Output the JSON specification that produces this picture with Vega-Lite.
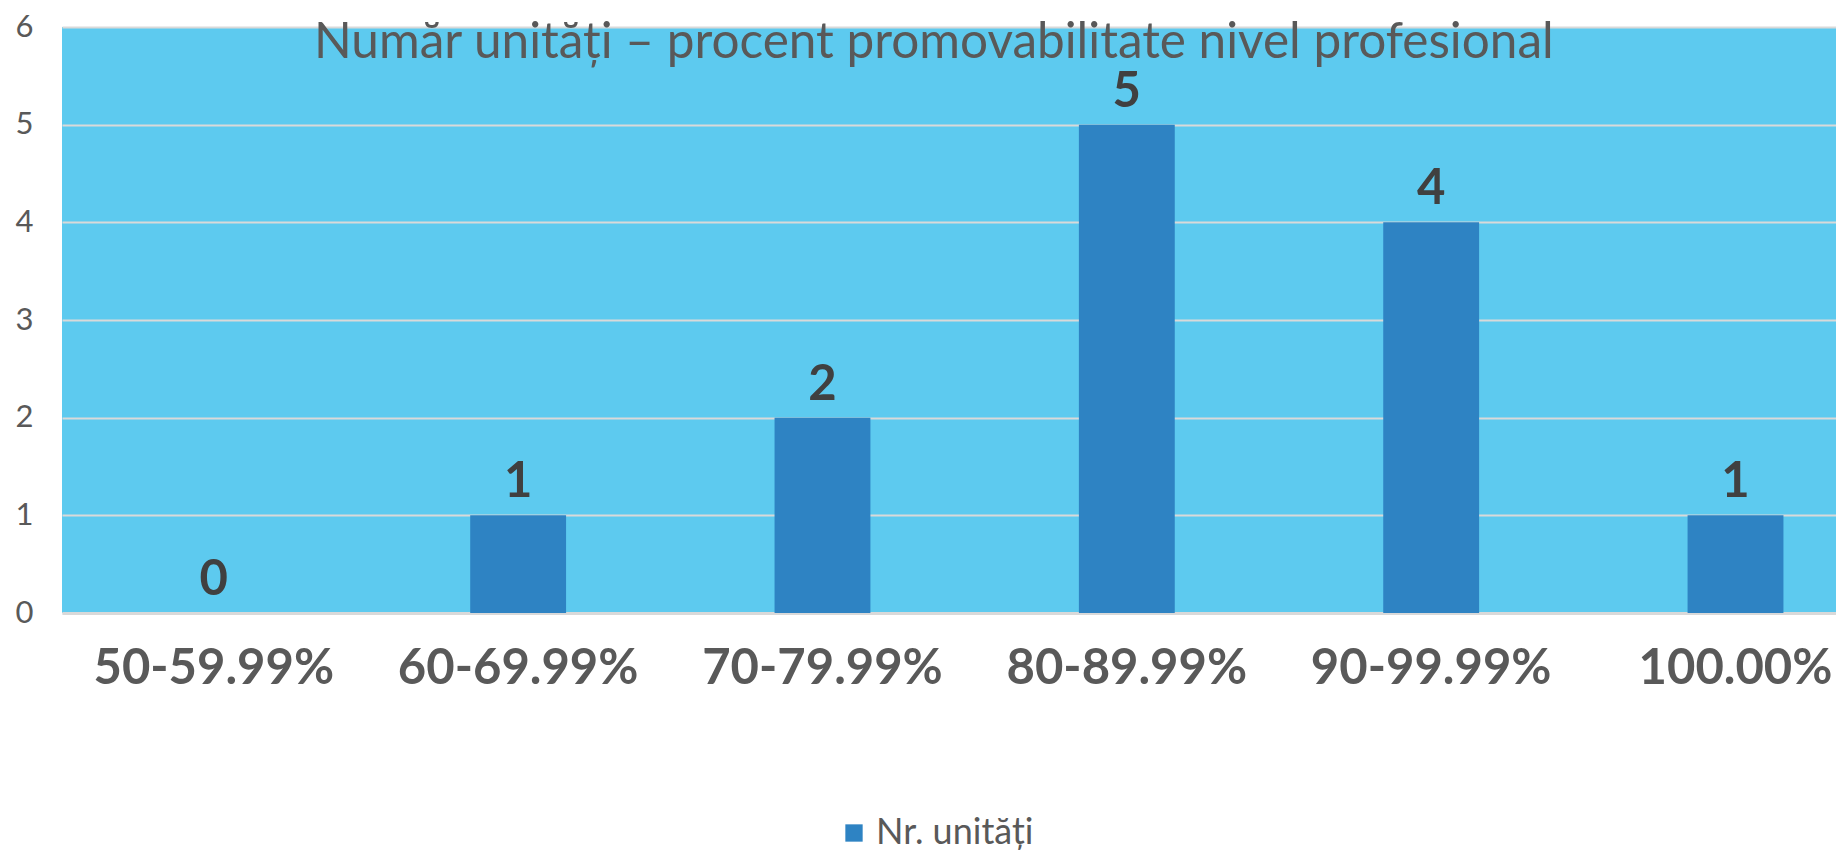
{
  "$schema": "https://vega.github.io/schema/vega-lite/v6.json",
  "autosize": {"type": "none"},
  "padding": {"left": 62, "top": 27, "right": 0, "bottom": 243},
  "width": 1774,
  "height": 586,
  "background": "#FFFFFF",
  "config": {
    "view": {"fill": "#5DCAEF", "stroke": null},
    "font": "Lato"
  },
  "title": {
    "text": "Număr unități – procent promovabilitate nivel profesional",
    "anchor": "start",
    "frame": "group",
    "orient": "top",
    "offset": 0,
    "dx": 252,
    "dy": 96,
    "baseline": "alphabetic",
    "font": "Lato",
    "fontSize": 49.5,
    "fontWeight": "normal",
    "color": "#595959"
  },
  "data": {
    "values": [
      {"interval": "50-59.99%", "units": 0},
      {"interval": "60-69.99%", "units": 1},
      {"interval": "70-79.99%", "units": 2},
      {"interval": "80-89.99%", "units": 5},
      {"interval": "90-99.99%", "units": 4},
      {"interval": "100.00%", "units": 1}
    ]
  },
  "encoding": {
    "x": {
      "field": "interval",
      "type": "nominal",
      "sort": null,
      "scale": {"paddingInner": 0.685, "paddingOuter": 0.257, "align": 0.664},
      "axis": {
        "title": null,
        "labelAngle": 0,
        "labelFont": "Lato",
        "labelFontSize": 49,
        "labelFontWeight": "bold",
        "labelColor": "#595959",
        "labelPadding": 31,
        "labelLimit": 0,
        "labelOverlap": false,
        "ticks": false,
        "domain": true,
        "domainColor": "#D9D9D9",
        "domainWidth": 3,
        "grid": false
      }
    },
    "y": {
      "field": "units",
      "type": "quantitative",
      "scale": {"domain": [0, 6], "nice": false},
      "axis": {
        "title": null,
        "values": [0, 1, 2, 3, 4, 5, 6],
        "labelFont": "Lato",
        "labelFontSize": 31,
        "labelColor": "#595959",
        "labelPadding": 29,
        "ticks": false,
        "domain": false,
        "grid": true,
        "gridColor": "#D9D9D9",
        "gridWidth": 2
      }
    }
  },
  "layer": [
    {
      "mark": {"type": "bar", "color": "#2E83C3"},
      "encoding": {
        "color": {
          "datum": "Nr. unități",
          "scale": {"range": ["#2E83C3"]},
          "legend": {
            "title": null,
            "orient": "none",
            "legendX": 774,
            "legendY": 788,
            "symbolType": "square",
            "symbolSize": 300,
            "symbolStrokeWidth": 0,
            "labelFont": "Lato",
            "labelFontSize": 36,
            "labelLimit": 0,
            "labelColor": "#595959",
            "labelOffset": 4
          }
        }
      }
    },
    {
      "mark": {
        "type": "text",
        "baseline": "alphabetic",
        "dy": -18,
        "font": "Lato",
        "fontSize": 49,
        "fontWeight": "bold",
        "color": "#404040"
      },
      "encoding": {
        "text": {"field": "units", "type": "quantitative"}
      }
    }
  ]
}
